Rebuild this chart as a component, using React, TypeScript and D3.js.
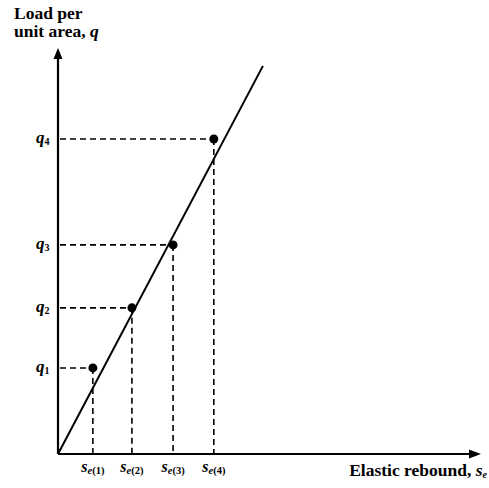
import React from "react";
import * as d3 from "d3";

const W = 489;
const H = 488;

// data (arbitrary units)
const sValues = [0.83, 1.76, 2.74, 3.71];
const qValues = [2.12, 3.6, 5.15, 7.76];
const sLabels = ["1", "2", "3", "4"];
const qLabels = ["1", "2", "3", "4"];
const lineStart = [0, 0];
const lineEnd = [4.88, 9.56];

const FONT = "'Liberation Serif', 'DejaVu Serif', serif";

export default function App() {
  const x = d3.scaleLinear().domain([0, 10]).range([58, 478]);
  const y = d3.scaleLinear().domain([0, 10]).range([454, 48]);
  const line = d3.line<number[]>().x((d) => x(d[0])).y((d) => y(d[1]));
  const x0 = x(0);
  const y0 = y(0);

  return (
    <svg width={W} height={H} style={{ display: "block", position: "absolute", left: 0, top: 0, background: "#fff" }}>
      {/* axes */}
      <line x1={x0} y1={y0} x2={x0} y2={y(10) + 8} stroke="#000" strokeWidth={2.2} />
      <path d={`M${x0},${y(10)} L${x0 - 4.5},${y(10) + 11} L${x0 + 4.5},${y(10) + 11} Z`} fill="#000" />
      <line x1={x0} y1={y0} x2={x(10) - 8} y2={y0} stroke="#000" strokeWidth={2.2} />
      <path d={`M${x(10) + 3},${y0} L${x(10) - 9},${y0 - 4.5} L${x(10) - 9},${y0 + 4.5} Z`} fill="#000" />

      {/* dashed guides */}
      {sValues.map((s, i) => (
        <g key={"g" + i}>
          <line x1={x0 + 2} y1={y(qValues[i])} x2={x(s)} y2={y(qValues[i])} stroke="#000" strokeWidth={1.6} strokeDasharray="6,4" />
          <line x1={x(s)} y1={y(qValues[i])} x2={x(s)} y2={y0} stroke="#000" strokeWidth={1.6} strokeDasharray="6,4" />
        </g>
      ))}

      {/* main line */}
      <path d={line([lineStart, lineEnd]) || ""} stroke="#000" strokeWidth={2} fill="none" />

      {/* points */}
      {sValues.map((s, i) => (
        <circle key={"c" + i} cx={x(s)} cy={y(qValues[i])} r={4.5} fill="#000" />
      ))}

      {/* q labels */}
      {qValues.map((q, i) => (
        <text key={"q" + i} x={36} y={y(q) + 4} fontFamily={FONT} fontWeight="bold" fontStyle="italic" fontSize={17}>
          q<tspan fontSize={10} dy={2} fontStyle="normal">{qLabels[i]}</tspan>
        </text>
      ))}

      {/* s labels */}
      {sValues.map((s, i) => (
        <text key={"s" + i} x={x(s)} y={472} textAnchor="middle" fontFamily={FONT} fontWeight="bold" fontSize={16}>
          <tspan fontStyle="italic">s</tspan>
          <tspan fontSize={10.5} dy={2} fontStyle="italic">e</tspan>
          <tspan fontSize={10.5}>({sLabels[i]})</tspan>
        </text>
      ))}

      {/* axis titles */}
      <text x={14} y={19} fontFamily={FONT} fontWeight="bold" fontSize={17.5}>Load per</text>
      <text x={14} y={37} fontFamily={FONT} fontWeight="bold" fontSize={17.5}>
        unit area, <tspan fontStyle="italic">q</tspan>
      </text>
      <text x={487} y={476} textAnchor="end" fontFamily={FONT} fontWeight="bold" fontSize={17.5}>
        Elastic rebound, <tspan fontStyle="italic">s</tspan><tspan fontSize={10} dy={2} fontStyle="italic">e</tspan>
      </text>
    </svg>
  );
}
